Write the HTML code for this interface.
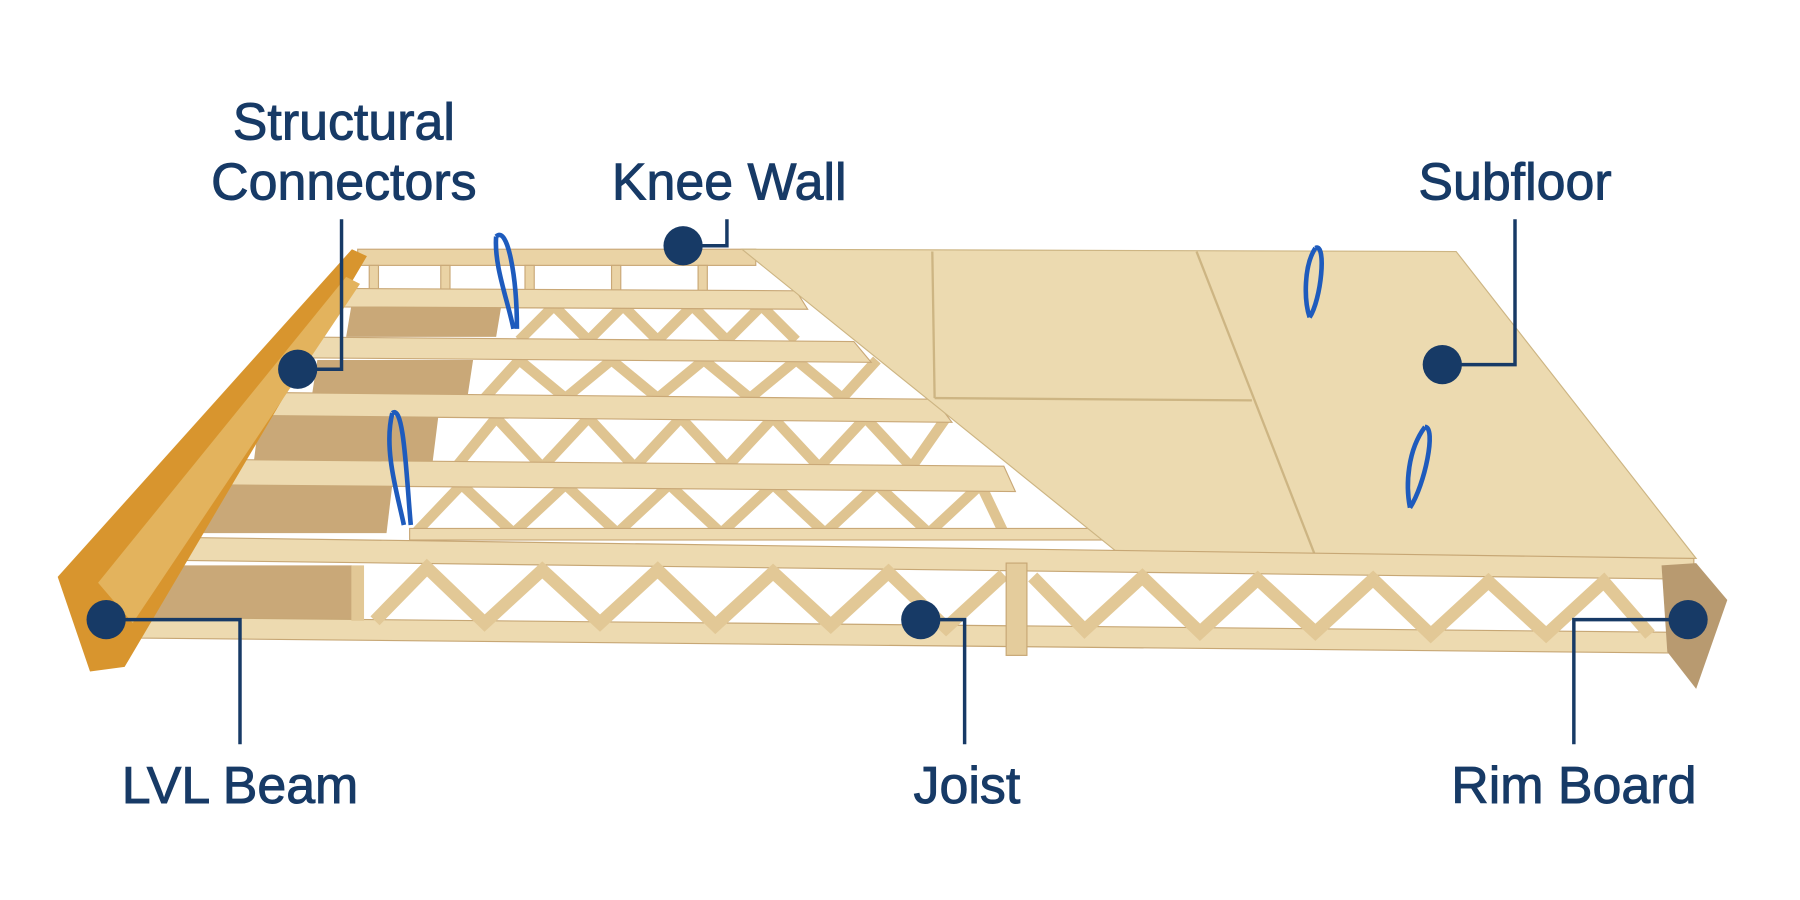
<!DOCTYPE html>
<html><head><meta charset="utf-8"><style>
html,body{margin:0;padding:0;background:#fff;}
svg{display:block}
text{font-family:"Liberation Sans",sans-serif;fill:#173a66;stroke:#173a66;stroke-width:0.8;font-size:45px;text-anchor:middle;}
</style></head><body>
<svg width="1800" height="900" viewBox="0 0 1560 780" preserveAspectRatio="none" xmlns="http://www.w3.org/2000/svg">
<rect width="1560" height="780" fill="#fff"/>
<g fill="#c9a878">
<polygon points="305,262 435,262 430,292 300,292"/>
<polygon points="275,312 410,312 405,345 270,345"/>
<polygon points="225,360 380,360 375,400 220,400"/>
<polygon points="175,420 340,420 335,462 170,462"/>
<polygon points="130,490 305,490 305,538 130,538"/>
</g>
<g fill="#ead3a5" stroke="#c9a877" stroke-width="1">
<rect x="310" y="216" width="345" height="14"/>
<rect x="320" y="230" width="8" height="22"/><rect x="382" y="230" width="8" height="22"/><rect x="455" y="230" width="8" height="22"/><rect x="530" y="230" width="8" height="22"/><rect x="605" y="230" width="8" height="22"/>
</g>
<g stroke="#dfc491" stroke-width="9" fill="none">
<path d="M450,295 L480,265 L510,295 L540,265 L570,295 L600,265 L630,295 L660,265 L690,295"/>
<path d="M420,345 L450,312 L490,345 L530,312 L570,345 L610,312 L650,345 L690,312 L730,345 L760,312"/>
<path d="M395,405 L430,362 L470,405 L510,362 L550,405 L590,362 L630,405 L670,362 L710,405 L750,362 L790,405 L820,362"/>
<path d="M360,462 L400,420 L445,462 L490,420 L535,462 L580,420 L625,462 L670,420 L715,462 L760,420 L805,462 L850,420 L870,462"/>
</g>
<g fill="#eddab0" stroke="#c9a877" stroke-width="1">
<polygon points="298,250 690,252 700,268 295,266"/>
<polygon points="250,292 740,296 755,314 245,310"/>
<polygon points="215,340 810,346 825,366 210,360"/>
<polygon points="165,398 870,404 880,426 160,420"/>
<rect x="355" y="458" width="600" height="10"/>
</g>
<polygon points="643,216 1262,218 1470,484 975,484" fill="#ecdab0" stroke="#cdb583"/>
<g stroke="#cdb583" stroke-width="2" fill="none">
<path d="M808,218 L810,345"/><path d="M1037,218 L1140,482"/><path d="M810,345 L1085,347"/>
</g>
<g fill="#eddab0" stroke="#c7a775" stroke-width="1">
<polygon points="100,465 1468,484 1468,502 100,485"/>
<polygon points="120,535 1455,548 1455,566 120,553"/>
</g>
<g stroke="#e2c896" stroke-width="11" fill="none">
<path d="M310,490 L310,538"/>
<path d="M325,538 L370,492 L420,540 L470,494 L520,540 L570,494 L620,542 L670,496 L720,542 L770,496 L820,544 L870,498"/>
<path d="M895,500 L940,546 L990,500 L1040,548 L1090,502 L1140,548 L1190,502 L1240,550 L1290,504 L1340,550 L1390,504 L1430,550"/>
</g>
<rect x="872" y="488" width="18" height="80" fill="#e4cc9c" stroke="#c7a775"/>
<polygon points="50,500 305,216 318,222 108,578 78,582" fill="#d8952e"/>
<polygon points="85,505 300,240 312,246 115,540" fill="#e3b35d"/>
<polygon points="1440,490 1470,488 1497,520 1470,597 1445,565" fill="#b89a70"/>
<g stroke="#1e5bbd" stroke-width="4" fill="none">
<path d="M430,205 C440,195 448,240 448,285 M430,205 C428,230 440,260 445,285"/>
<path d="M340,358 C350,350 352,410 356,455 M340,358 C332,390 345,430 350,455"/>
<path d="M1140,215 C1150,210 1145,260 1135,275 M1140,215 C1130,230 1130,260 1135,275"/>
<path d="M1235,370 C1245,370 1235,420 1222,440 M1235,370 C1220,390 1218,420 1222,440"/>
</g>
<g stroke="#173a66" stroke-width="3" fill="none">
<path d="M592,213 H630 V190"/>
<path d="M258,320 H296 V190"/>
<path d="M1250,316 H1313 V190"/>
<path d="M92,537 H208 V645"/>
<path d="M798,537 H836 V645"/>
<path d="M1463,537 H1364 V645"/>
</g>
<g fill="#173a66">
<circle cx="592" cy="213" r="17"/><circle cx="258" cy="320" r="17"/><circle cx="1250" cy="316" r="17"/>
<circle cx="92" cy="537" r="17"/><circle cx="798" cy="537" r="17"/><circle cx="1463" cy="537" r="17"/>
</g>
<text x="298" y="121">Structural</text>
<text x="298" y="173">Connectors</text>
<text x="632" y="173">Knee Wall</text>
<text x="1313" y="173">Subfloor</text>
<text x="208" y="696">LVL Beam</text>
<text x="838" y="696">Joist</text>
<text x="1364" y="696">Rim Board</text>
</svg>
</body></html>
